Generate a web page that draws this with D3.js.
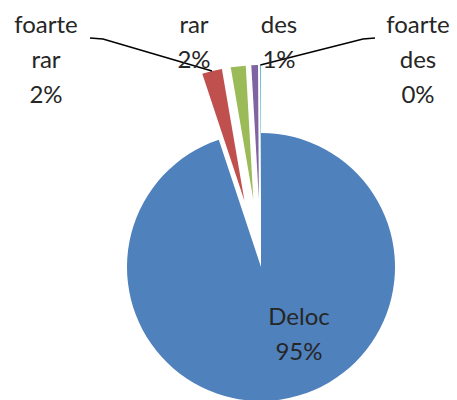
<!DOCTYPE html>
<html>
<head>
<meta charset="utf-8">
<script src="https://cdnjs.cloudflare.com/ajax/libs/d3/7.8.5/d3.min.js"></script>
<style>
  html, body { margin: 0; padding: 0; background: #fff; }
  svg { display: block; }
  .lbl { font-family: Lato, "Open Sans", sans-serif; font-size: 24px; fill: #262626; }
</style>
</head>
<body>
<div id="chart"></div>
<script>
// data
const categories = ["Deloc", "foarte rar", "rar", "des", "foarte des"];
const values = [94.9, 2.4, 1.8, 0.8, 0.1];   // percent
const colors = ["#4f81bd", "#c0504d", "#9bbb59", "#8064a2", "#4bacc6"];

// layout
const width = 457, height = 400;
const cx = 261, cy = 267, radius = 134;
const explode = [0, 68, 68, 68, 68];
// label boxes: centre x, first baseline, optional leader start
const labelLayout = [
    { x: 299, y: 325 },
    { x: 46, y: 33, lead: [[90, 38], [103, 39]] },
    { x: 194, y: 33 },
    { x: 279, y: 33 },
    { x: 418, y: 33, lead: [[375, 38], [363, 39]] }
];
const lineGap = 35;

const svg = d3.select("#chart").append("svg")
    .attr("width", width)
    .attr("height", height);

const g = svg.append("g").attr("transform", `translate(${cx},${cy})`);

const total = d3.sum(values);
const rows = categories.map((c, i) => ({ name: c, value: values[i], i: i }));

const pie = d3.pie().sort(null).value(d => d.value);
const arcs = pie(rows);
const arc = d3.arc().innerRadius(0).outerRadius(radius);

// offset of an exploded slice along its bisector
function shift(d) {
    const a = (d.startAngle + d.endAngle) / 2;
    const e = explode[d.data.i];
    return [e * Math.sin(a), -e * Math.cos(a)];
}

g.selectAll("path.slice")
    .data(arcs)
    .enter()
    .append("path")
    .attr("class", "slice")
    .attr("d", arc)
    .attr("fill", d => colors[d.data.i])
    .attr("transform", d => `translate(${shift(d)})`);

// leader lines to the outer edge of the slice
const lineGen = d3.line();
arcs.forEach(d => {
    const lay = labelLayout[d.data.i];
    if (!lay.lead) return;
    const a = (d.startAngle + d.endAngle) / 2;
    const s = shift(d);
    const end = [cx + s[0] + radius * Math.sin(a), cy + s[1] - radius * Math.cos(a)];
    svg.append("path")
        .attr("d", lineGen(lay.lead.concat([end])))
        .attr("fill", "none")
        .attr("stroke", "#000")
        .attr("stroke-width", 1.5);
});

// labels
const fmt = v => Math.round(v / total * 100) + "%";
arcs.forEach(d => {
    const lay = labelLayout[d.data.i];
    const lines = d.data.name.split(" ").concat([fmt(d.value)]);
    const t = svg.append("text")
        .attr("class", "lbl")
        .attr("text-anchor", "middle");
    lines.forEach((s, k) => {
        t.append("tspan")
            .attr("x", lay.x)
            .attr("y", lay.y + k * lineGap)
            .text(s);
    });
});
</script>
</body>
</html>
